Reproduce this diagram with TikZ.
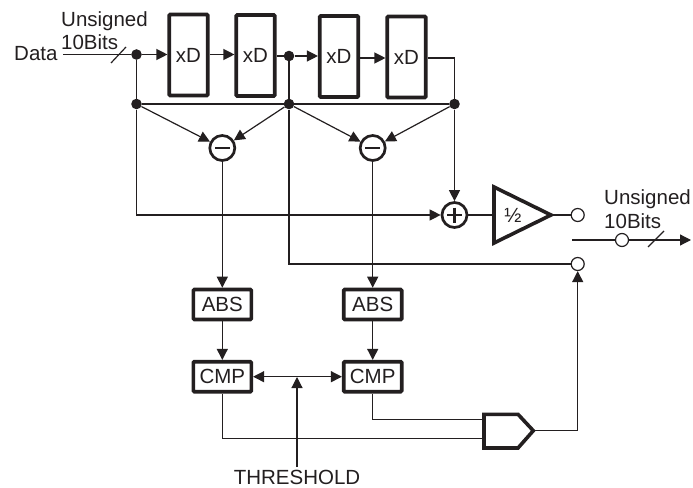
\documentclass[tikz,border=0pt]{standalone}
\usepackage{fontspec}
\setmainfont{Liberation Sans}
\usetikzlibrary{arrows.meta}
\definecolor{ink}{HTML}{231F20}
\tikzset{
  wire/.style={draw=ink,line width=1.2pt},
  arr/.style={wire,-{Triangle[length=11pt,width=11pt]}},
  darr/.style={wire,{Triangle[length=11pt,width=11pt]}-{Triangle[length=11pt,width=11pt]}},
  bx/.style={draw=ink,line width=3.6pt,rounded corners=1pt,inner sep=0pt,fill=white,text=ink,font=\fontsize{20.5}{24}\selectfont},
  dly/.style={bx,minimum width=38.5pt,minimum height=81pt},
  blk/.style={bx,minimum width=58pt,minimum height=30pt},
  dot/.style={circle,fill=ink,draw=none,minimum size=10.6pt,inner sep=0pt},
  term/.style={circle,draw=ink,fill=white,line width=1.2pt,minimum size=13pt,inner sep=0pt},
  op/.style={circle,draw=ink,fill=white,line width=2.7pt,minimum size=25pt,inner sep=0pt},
  lbl/.style={anchor=base west,inner sep=0pt,text=ink,font=\fontsize{20.5}{24}\selectfont},
  sym/.style={draw=ink,line width=2.7pt},
  thk/.style={draw=ink,line width=3.6pt,line join=miter,fill=white},
}
\begin{document}
\begin{tikzpicture}[x=1pt,y=-1pt]
\useasboundingbox (0,0) rectangle (693,487);
% coordinates
\coordinate (in) at (63,54.5);
\coordinate (ot) at (572,240);
\coordinate (oe) at (691,240);
\coordinate (thr) at (297,467);
\coordinate (thj) at (297,377);
\coordinate (s1a) at (111,63);
\coordinate (s1b) at (126,47);
\coordinate (s2a) at (648,247);
\coordinate (s2b) at (664,231);
\coordinate (c4) at (454.5,58);
\coordinate (ca) at (372.7,419.3);
\coordinate (cb) at (222.3,438.7);
\coordinate (gN) at (484,419.3);
\coordinate (gS) at (484,438.7);
\coordinate (gO) at (533.3,430.7);
\coordinate (gU) at (577.7,430.7);
\coordinate (tO) at (551,215);
\coordinate (tI) at (494,215);
% blocks
\node[dly] (d1) at (188.5,55) {xD};
\node[dly] (d2) at (255.5,55.5) {xD};
\node[dly] (d3) at (339,56.5) {xD};
\node[dly] (d4) at (406.5,57) {xD};
\node[blk] (a1) at (222.3,304.5) {ABS};
\node[blk] (a2) at (372.7,304.5) {ABS};
\node[blk] (m1) at (222.3,376.7) {CMP};
\node[blk] (m2) at (372.7,376.7) {CMP};
\node[op] (n1) at (222.3,148) {};
\node[op] (n2) at (372.7,148) {};
\node[op] (p1) at (454.5,215) {};
\node[dot] (j1) at (136.5,54.5) {};
\node[dot] (j2) at (289,56) {};
\node[dot] (j3) at (136.5,104) {};
\node[dot] (j4) at (289,104) {};
\node[dot] (j5) at (454.5,104) {};
\node[term] (t1) at (577.7,215) {};
\node[term] (t2) at (577.7,264) {};
\node[term] (t3) at (622,240) {};
% wires
\path[wire] (in) -- (j1);
\path[wire] (s1a) -- (s1b);
\path[arr] (j1) -- (d1.west|-j1);
\path[arr] (d1.east|-j1) -- (d2.west|-j1);
\path[wire] (d2.east|-j2) -- (j2);
\path[arr] (j2) -- (d3.west|-j2);
\path[arr] (d3.east|-c4) -- (d4.west|-c4);
\path[wire] (d4.east|-c4) -- (c4) -- (j5);
\path[wire] (j1) -- (j3);
\path[wire] (j2) -- (j4);
\path[wire] (j3) -- (j5);
\path[arr] (j3) -- (n1);
\path[arr] (j4) -- (n1);
\path[arr] (j4) -- (n2);
\path[arr] (j5) -- (n2);
\path[arr] (j3) |- (p1);
\path[arr] (j5) -- (p1);
\path[wire] (j4) |- (t2);
\path[arr] (n1) -- (a1);
\path[arr] (n2) -- (a2);
\path[arr] (a1) -- (m1);
\path[arr] (a2) -- (m2);
\path[darr] (m1) -- (m2);
\path[arr] (thr) -- (thj);
\path[wire] (m2) -- (ca) -- (gN);
\path[wire] (m1) -- (cb) -- (gS);
\path[wire] (p1) -- (tI);
\path[wire] (tO) -- (t1);
\path[wire] (gO) -- (gU);
\path[arr] (gU) -- (t2);
\path[wire] (ot) -- (t3);
\path[arr] (t3) -- (oe);
\path[wire] (s2a) -- (s2b);
% operator symbols
\path[sym] (215,148) -- (229.6,148);
\path[sym] (365.4,148) -- (380,148);
\path[sym] (447,215) -- (462,215);
\path[sym] (454.5,207.5) -- (454.5,222.5);
% gates
\path[thk] (494,187) -- (551,215) -- (494,243) -- cycle;
\path[thk] (484,414.3) -- (518,414.3) -- (533.3,430.7) -- (518,448) -- (484,448) -- cycle;
% labels
\node[lbl] (l1) at (61,27) {Unsigned};
\node[lbl] (l2) at (61,50) {10Bits};
\node[lbl] (l3) at (14,61) {Data};
\node[lbl] (l4) at (604,204) {Unsigned};
\node[lbl] (l5) at (604,228) {10Bits};
\node[lbl,anchor=base] (l6) at (297,484) {THRESHOLD};
\node[lbl,anchor=base] (l7) at (513,222.5) {½};
\end{tikzpicture}
\end{document}
